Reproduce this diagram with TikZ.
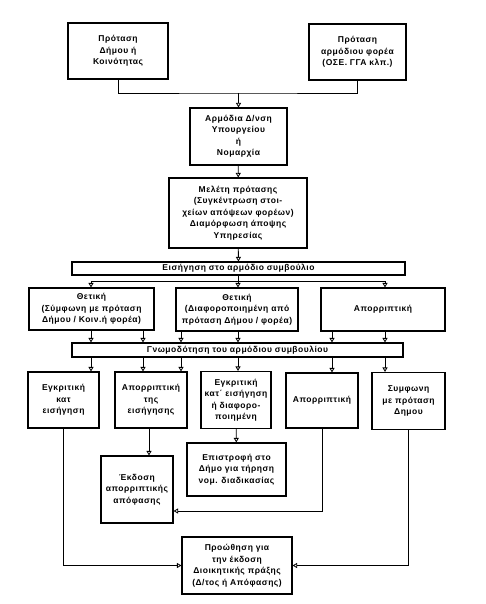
\documentclass[tikz,border=0pt]{standalone}
\usepackage{fontspec}
\setmainfont{Liberation Sans}[LetterSpace=6]
\usetikzlibrary{arrows.meta}
\tikzset{
  box/.style={draw, line width=1.1pt, align=center, inner sep=1pt,
    font=\bfseries\fontsize{8.5}{11.5}\selectfont},
  link/.style={line width=0.8pt},
  flow/.style={link, -{Triangle[open,width=5pt,length=4.5pt]}},
}
\begin{document}
\begin{tikzpicture}[x=1pt,y=-1pt]
  \path[use as bounding box] (0,0) rectangle (486,604);
  \node[box, minimum width=100pt, minimum height=56pt] (p1) at (118,51)
    {Πρόταση\\Δήμου ή\\Κοινότητας};
  \node[box, minimum width=97pt, minimum height=56pt] (p2) at (357.5,52)
    {Πρόταση\\αρμόδιου φορέα\\(ΟΣΕ. ΓΓΑ κλπ.)};
  \node[box, minimum width=97pt, minimum height=57pt] (arm) at (238.5,136.5)
    {Αρμόδια Δ/νση\\Υπουργείου\\ή\\Νομαρχία};
  \node[box, minimum width=138pt, minimum height=70pt] (mel) at (238,213)
    {Μελέτη πρότασης\\(Συγκέντρωση στοι-\\χείων απόψεων φορέων)\\Διαμόρφωση άποψης\\Υπηρεσίας};
  \node[box, minimum width=333pt, minimum height=13pt] (eis) at (238.5,268.5)
    {Εισήγηση στο αρμόδιο συμβούλιο};
  \node[box, minimum width=125pt, minimum height=42pt] (thA) at (91.5,309)
    {Θετική\\(Σύμφωνη με πρόταση\\Δήμου / Κοιν.ή φορέα)};
  \node[box, minimum width=122pt, minimum height=43pt] (thB) at (237,309.5)
    {Θετική\\(Διαφοροποιημένη από\\πρόταση Δήμου / φορέα)};
  \node[box, minimum width=124pt, minimum height=43pt] (apC) at (383,309.5)
    {Απορριπτική};
  \node[box, minimum width=331pt, minimum height=14pt] (gnw) at (237.5,350)
    {Γνωμοδότηση του αρμόδιου συμβουλίου};
  \node[box, minimum width=71pt, minimum height=56pt] (egD) at (63.5,400)
    {Εγκριτική\\κατ\\εισήγηση};
  \node[box, minimum width=72pt, minimum height=56pt] (apE) at (151,400)
    {Απορριπτική\\της\\εισήγησης};
  \node[box, minimum width=70pt, minimum height=57pt] (egF) at (236,400)
    {Εγκριτική\\κατ΄ εισήγηση\\ή διαφορο-\\ποιημένη};
  \node[box, minimum width=72pt, minimum height=55pt] (apG) at (322,400.5)
    {Απορριπτική};
  \node[box, minimum width=73pt, minimum height=57pt] (syH) at (408.5,401)
    {Συμφωνη\\με πρόταση\\Δημου};
  \node[box, minimum width=72pt, minimum height=67pt] (ekd) at (137,489.5)
    {Έκδοση\\απορριπτικής\\απόφασης};
  \node[box, minimum width=99pt, minimum height=53pt] (epi) at (236.5,469.5)
    {Επιστροφή στο\\Δήμο για τήρηση\\νομ. διαδικασίας};
  \node[box, minimum width=110pt, minimum height=57pt] (pro) at (237,565.5)
    {Προώθηση για\\την έκδοση\\Διοικητικής πράξης\\(Δ/τος ή Απόφασης)};

  \coordinate (j1) at (238.5,93);
  \coordinate (j2a) at (91,281);
  \coordinate (j2c) at (385,281);
  \coordinate (j3) at (322,511);

  \draw[link] (p1) |- (j1) -| (p2);
  \draw[flow] (j1) -- (arm);
  \draw[flow] (arm) -- (mel);
  \draw[flow] (mel) -- (eis);
  \draw[link] (j2a) -- (j2c);
  \draw[flow] (eis.south -| 238,0) -- (thB.north -| 238,0);
  \draw[flow] (j2a) -- (thA.north -| j2a);
  \draw[flow] (j2c) -- (apC.north -| j2c);
  \foreach \s/\x in {thA/91, thA/143, thB/181, thB/238, apC/332, apC/385}
    \draw[flow] (\s.south -| \x,0) -- (gnw.north -| \x,0);
  \foreach \t/\x in {egD/91, apE/143, apE/181, egF/238, apG/332, syH/385}
    \draw[flow] (gnw.south -| \x,0) -- (\t.north -| \x,0);
  \draw[flow] (egD) |- (pro);
  \draw[flow] (apE.south -| 149,0) -- (ekd.north -| 149,0);
  \draw[flow] (egF) -- (epi);
  \draw[flow] (apG) -- (j3) -- (j3 -| ekd.east);
  \draw[flow] (syH) |- (pro);
\end{tikzpicture}
\end{document}
